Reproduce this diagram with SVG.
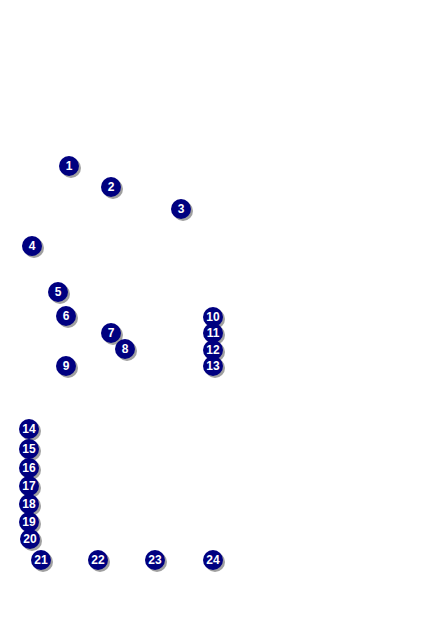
<svg xmlns="http://www.w3.org/2000/svg" width="424" height="636" viewBox="0 0 424 636">
<defs>
<style>
.sh{fill:#888888;opacity:0.8}
.c{fill:#000080}
.t{fill:#fff;font-family:"Liberation Sans",Arial,sans-serif;font-weight:bold;font-size:12px;text-anchor:middle}
</style>
<g id="b"><circle class="sh" cx="2" cy="2" r="10"/><circle class="c" cx="0" cy="0" r="10"/></g>
</defs>
<rect width="424" height="636" fill="#fff"/>
<g id="connectors"/>
<g id="n1" transform="translate(69,166)"><use href="#b"/><text class="t" y="4">1</text></g>
<g id="n2" transform="translate(111,187)"><use href="#b"/><text class="t" y="4">2</text></g>
<g id="n3" transform="translate(181,209)"><use href="#b"/><text class="t" y="4">3</text></g>
<g id="n4" transform="translate(32,246)"><use href="#b"/><text class="t" y="4">4</text></g>
<g id="n5" transform="translate(58,292)"><use href="#b"/><text class="t" y="4">5</text></g>
<g id="n6" transform="translate(66,316)"><use href="#b"/><text class="t" y="4">6</text></g>
<g id="n7" transform="translate(111,333)"><use href="#b"/><text class="t" y="4">7</text></g>
<g id="n8" transform="translate(125,349)"><use href="#b"/><text class="t" y="4">8</text></g>
<g id="n9" transform="translate(66,366)"><use href="#b"/><text class="t" y="4">9</text></g>
<g id="n10" transform="translate(213,317)"><use href="#b"/><text class="t" y="4">10</text></g>
<g id="n11" transform="translate(213,333)"><use href="#b"/><text class="t" y="4">11</text></g>
<g id="n12" transform="translate(213,350)"><use href="#b"/><text class="t" y="4">12</text></g>
<g id="n13" transform="translate(213,366)"><use href="#b"/><text class="t" y="4">13</text></g>
<g id="n14" transform="translate(29,429)"><use href="#b"/><text class="t" y="4">14</text></g>
<g id="n15" transform="translate(29,449)"><use href="#b"/><text class="t" y="4">15</text></g>
<g id="n16" transform="translate(29,468)"><use href="#b"/><text class="t" y="4">16</text></g>
<g id="n17" transform="translate(29,486)"><use href="#b"/><text class="t" y="4">17</text></g>
<g id="n18" transform="translate(29,504)"><use href="#b"/><text class="t" y="4">18</text></g>
<g id="n19" transform="translate(29,522)"><use href="#b"/><text class="t" y="4">19</text></g>
<g id="n20" transform="translate(30,539)"><use href="#b"/><text class="t" y="4">20</text></g>
<g id="n21" transform="translate(41,560)"><use href="#b"/><text class="t" y="4">21</text></g>
<g id="n22" transform="translate(98,560)"><use href="#b"/><text class="t" y="4">22</text></g>
<g id="n23" transform="translate(155,560)"><use href="#b"/><text class="t" y="4">23</text></g>
<g id="n24" transform="translate(213,560)"><use href="#b"/><text class="t" y="4">24</text></g>
</svg>
